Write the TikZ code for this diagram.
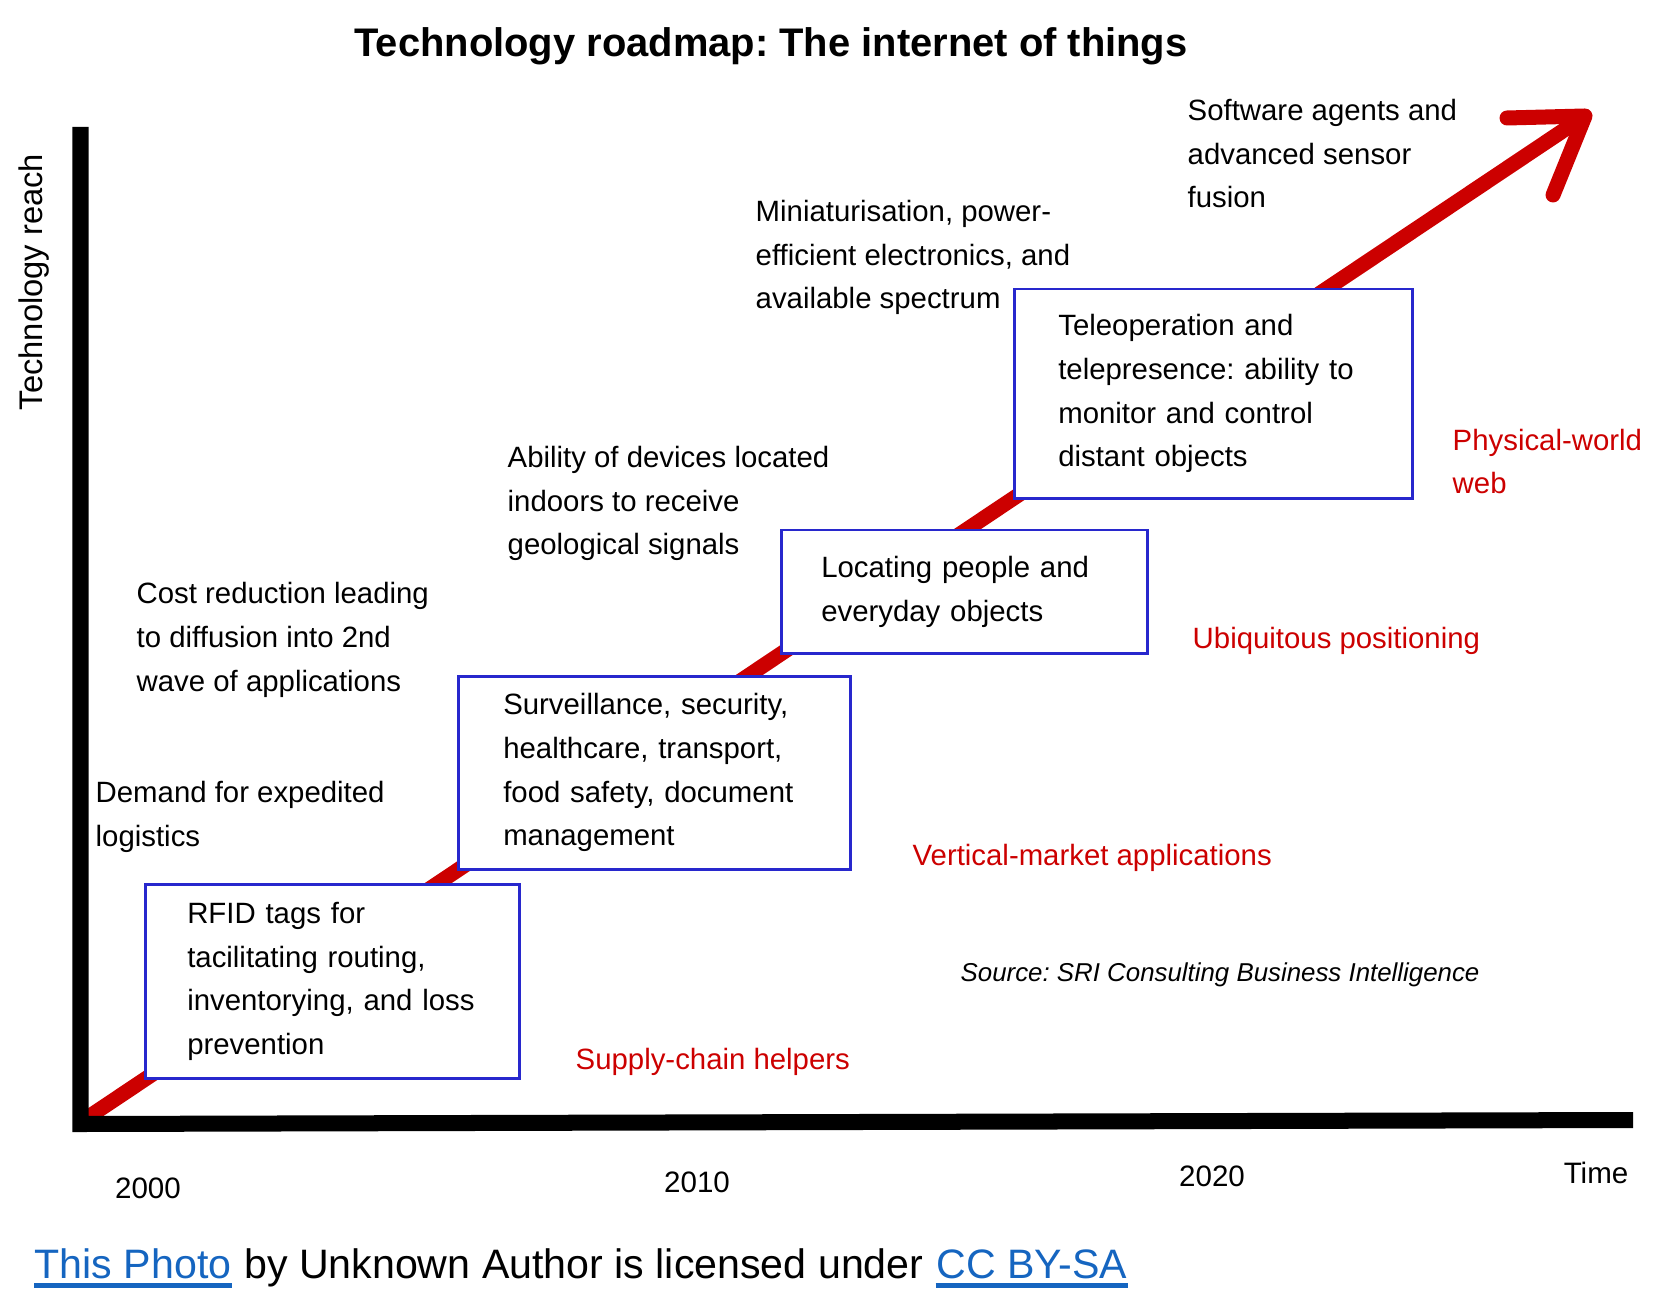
\documentclass[tikz,border=0pt]{standalone}
\usepackage{fontspec}
\setmainfont{Liberation Sans}
\usetikzlibrary{positioning}
\frenchspacing

\definecolor{roadred}{RGB}{204,0,0}
\definecolor{boxblue}{RGB}{40,40,205}
\definecolor{linkblue}{RGB}{21,101,192}

\begin{document}
\begin{tikzpicture}[
      x=0.01cm, y=-0.01cm,
      every node/.style={inner sep=0pt},
      note/.style={anchor=base west, align=left, font=\fontsize{8.35}{12.4}\selectfont},
      phase/.style={note, text=roadred},
      ideabox/.style={draw=boxblue, line width=0.025cm, fill=white, anchor=north west,
        align=left, inner ysep=0pt, font=\fontsize{8.35}{12.4}\selectfont},
      year/.style={anchor=base, font=\fontsize{8.4}{10}\selectfont},
      axisline/.style={line width=0.16cm, line join=miter},
      roadline/.style={roadred, line width=0.15cm}
    ]
      \useasboundingbox (0,0) rectangle (1677,1301);

      \node[anchor=base, font=\bfseries\fontsize{11.35}{13}\selectfont] (title) at (771,57)
        {Technology roadmap: The internet of things};

      % growth arrow
      \coordinate (start) at (84,1120);
      \coordinate (tip) at (1585,116);
      \coordinate (barbl) at (1507,118);
      \coordinate (barbr) at (1553,195);
      \draw[roadline] (start) -- (tip);
      \draw[roadline, line cap=round, line join=round] (barbl) -- (tip) -- (barbr);

      % axes
      \coordinate (ytop) at (80.5,127);
      \coordinate (origin) at (80.5,1124);
      \coordinate (xend) at (1633,1120);
      \draw[axisline] (ytop) -- (origin) -- (xend);
      \node[anchor=base, rotate=90, font=\fontsize{9.3}{11}\selectfont] (reach) at (42,282) {Technology reach};

      \node[year] (y2000) at (148,1198) {2000};
      \node[year] (y2010) at (697,1192) {2010};
      \node[year] (y2020) at (1212,1186) {2020};
      \node[year] (time) at (1596,1183) {Time};

      % application boxes
      \node[ideabox, inner xsep=0.42cm, text width=2.90cm, minimum height=1.94cm] (rfid) at (144,883)
        {RFID tags for\\tacilitating routing,\\inventorying, and loss\\prevention};
      \node[ideabox, inner xsep=0.45cm, text width=3.02cm, minimum height=1.93cm] (surv) at (457,675)
        {Surveillance, security,\\healthcare, transport,\\food safety, document\\management};
      \node[ideabox, inner xsep=0.40cm, text width=2.86cm, minimum height=1.23cm] (locate) at (780,529)
        {Locating people and\\everyday objects};
      \node[ideabox, inner xsep=0.44cm, text width=3.10cm, minimum height=2.09cm] (tele) at (1013,288)
        {Teleoperation and\\telepresence: ability to\\monitor and control\\distant objects};

      % drivers (placed at the baseline of the last line)
      \node[note] (demand) at (95,846) {Demand for expedited\\logistics};
      \node[note] (cost) at (136,691) {Cost reduction leading\\to diffusion into 2nd\\wave of applications};
      \node[note] (indoor) at (507,555) {Ability of devices located\\indoors to receive\\geological signals};
      \node[note] (mini) at (755,309) {Miniaturisation, power-\\efficient electronics, and\\available spectrum};
      \node[note] (agents) at (1187,208) {Software agents and\\advanced sensor\\fusion};

      % phases
      \node[phase] (supply) at (575,1069) {Supply-chain helpers};
      \node[phase] (vertical) at (912,865) {Vertical-market applications};
      \node[phase] (ubiq) at (1192,648) {Ubiquitous positioning};
      \node[phase] (physweb) at (1452,494) {Physical-world\\web};

      \node[anchor=base west, font=\itshape\fontsize{7.35}{9}\selectfont] (source) at (960,981)
        {Source: SRI Consulting Business Intelligence};

      % credit line
      \node[anchor=base west, text=linkblue, font=\fontsize{11.7}{14}\selectfont] (credA) at (34,1278) {This Photo};
      \node[anchor=base west, font=\fontsize{11.7}{14}\selectfont] (credB) at (credA.base east)
        {~by Unknown Author is licensed under\ \null};
      \node[anchor=base west, text=linkblue, font=\fontsize{11.7}{14}\selectfont] (credC) at (credB.base east) {CC BY-SA};
      \draw[linkblue, line width=0.05cm] ([yshift=-0.07cm]credA.base west) -- ([yshift=-0.07cm]credA.base east);
      \draw[linkblue, line width=0.05cm] ([yshift=-0.07cm]credC.base west) -- ([yshift=-0.07cm]credC.base east);
    \end{tikzpicture}
\end{document}
